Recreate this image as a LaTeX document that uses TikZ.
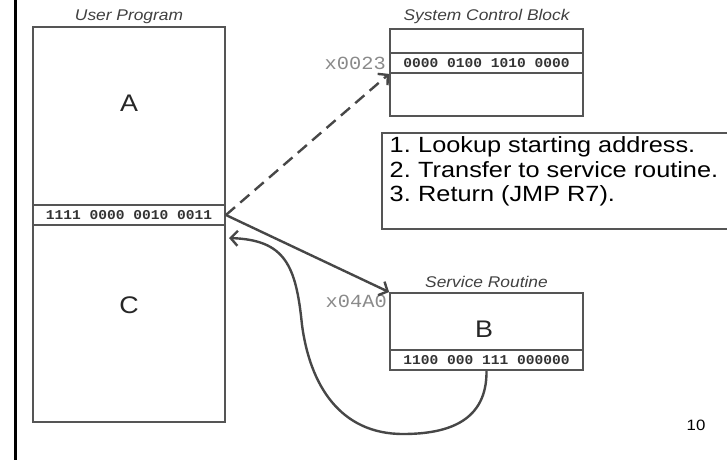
\documentclass[tikz,border=0pt]{standalone}
\usepackage{fontspec}
\setmainfont{Liberation Sans}[FakeStretch=1.12]
\newfontfamily\stepfont{Liberation Sans}[FakeStretch=1.15]
\newfontfamily\codefont{Liberation Mono}[FakeStretch=1.08]
\newfontfamily\addrfont{Liberation Mono}[FakeStretch=1.1]
\usetikzlibrary{arrows.meta}

\definecolor{boxline}{HTML}{555555}
\definecolor{arrowline}{HTML}{474747}
\definecolor{addrgray}{HTML}{8A8A8A}
\definecolor{codeink}{HTML}{333333}

\tikzset{
  membox/.style={draw=boxline, line width=1.8pt, inner sep=0pt},
  coderow/.style={membox, minimum height=20pt,
    font=\codefont\bfseries\fontsize{13.5}{13.5}\selectfont, text=codeink},
  bigletter/.style={font=\fontsize{24}{24}\selectfont, text=black!85},
  title/.style={font=\itshape\fontsize{15.5}{16}\selectfont, text=black!75, anchor=base},
  addr/.style={font=\addrfont\fontsize{18.5}{19}\selectfont, text=addrgray, anchor=base east, inner sep=0pt},
  steptext/.style={font=\stepfont\fontsize{22}{24}\selectfont, anchor=base west, inner sep=0pt},
  link/.style={draw=arrowline, line width=2.4pt,
    -{Straight Barb[length=7pt, width=15pt]}},
}

\begin{document}
\begin{tikzpicture}[x=1pt, y=-1pt]
\useasboundingbox (0,0) rectangle (727,460);

% left margin rule
\draw[line width=3pt, black] (15,0) -- (15,460);

% user program memory
\node[title] (usertitle) at (129,21) {User Program};
\node[membox, minimum width=192pt, minimum height=395pt] (user) at (129,224.5) {};
\node[coderow, minimum width=192pt] (userrow) at (129,215) {1111 0000 0010 0011};
\node[bigletter] (la) at (129,103) {A};
\node[bigletter] (lc) at (129,305) {C};

% system control block
\node[title] (scbtitle) at (486.5,21) {System Control Block};
\node[membox, minimum width=193pt, minimum height=87pt] (scb) at (486.5,72.5) {};
\node[coderow, minimum width=193pt] (scbrow) at (486.5,63) {0000 0100 1010 0000};
\node[addr] (a23) at (386,69) {x0023};

% steps of the trap
\draw[membox] (727,133) -| (382,229) -- (727,229);
\node[steptext] (n1) at (389.5,152.5) {1.};
\node[steptext] (s1) at (418,152.5) {Lookup starting address.};
\node[steptext] (n2) at (389.5,177) {2.};
\node[steptext] (s2) at (418,177) {Transfer to service routine.};
\node[steptext] (n3) at (389.5,201.5) {3.};
\node[steptext] (s3) at (418,201.5) {Return (JMP R7).};

% service routine
\node[title] (srtitle) at (486.5,287) {Service Routine};
\node[membox, minimum width=193pt, minimum height=77pt] (srb) at (486.5,331.5) {};
\node[coderow, minimum width=193pt] (srbrow) at (486.5,360) {1100 000 111 000000};
\node[bigletter] (lb) at (484,329.5) {B};
\node[addr] (a4a0) at (387,307) {x04A0};

% page number
\node[font=\fontsize{15}{15}\selectfont] (pg) at (696,425) {10};

% control flow
\coordinate (ret) at (229,238);
\draw[link, dash pattern=on 12pt off 7pt] (userrow.east) -- (scbrow.south west);
\draw[link] (userrow.east) -- (srb.north west);
\draw[link] (srbrow.south)
  .. controls (487,420) and (450,434) .. (403,434)
  .. controls (340,434) and (310,385) .. (302,325)
  .. controls (296,265) and (285,240) .. (ret);

\end{tikzpicture}
\end{document}
